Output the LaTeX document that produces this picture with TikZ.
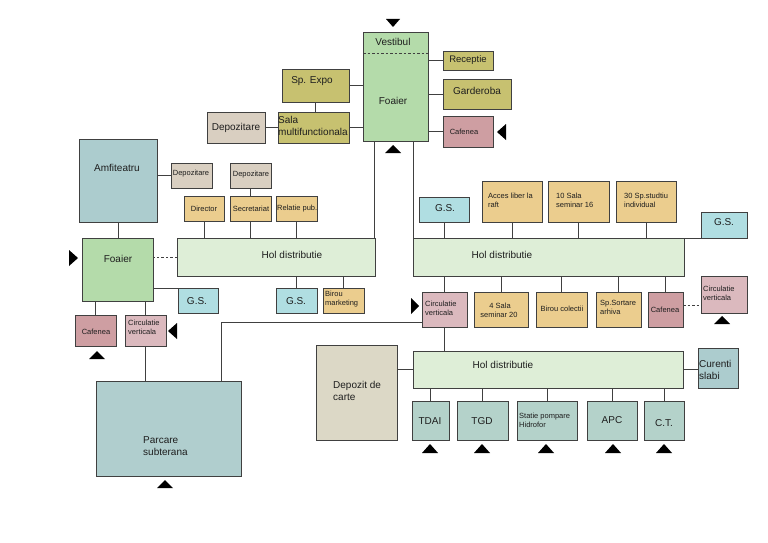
\documentclass[tikz,border=0pt]{standalone}
\usepackage{fontspec}
\setmainfont{Liberation Sans}
\definecolor{cOlive}{RGB}{199,193,112}
\definecolor{cGreen}{RGB}{180,219,170}
\definecolor{cCaf}{RGB}{206,158,162}
\definecolor{cCirc}{RGB}{219,185,190}
\definecolor{cHol}{RGB}{222,238,215}
\definecolor{cGS}{RGB}{176,222,226}
\definecolor{cTeal}{RGB}{172,204,206}
\definecolor{cTealB}{RGB}{176,206,206}
\definecolor{cTan}{RGB}{235,205,142}
\definecolor{cBeige}{RGB}{217,207,193}
\definecolor{cBeigeB}{RGB}{220,216,198}
\definecolor{cSvc}{RGB}{180,210,202}
\definecolor{cLine}{RGB}{64,64,64}
\definecolor{cText}{RGB}{30,30,30}
\tikzset{
  box/.style={draw=cLine, line width=0.8pt, inner sep=0pt, outer sep=0pt, anchor=north west},
  conn/.style={draw=cLine, line width=0.8pt},
  dconn/.style={draw=cLine, line width=0.8pt, dash pattern=on 2.5pt off 2pt},
  big/.style={font=\fontsize{10}{12}\selectfont, text=cText, inner sep=0pt, align=left},
  sml/.style={font=\fontsize{7.5}{9}\selectfont, text=cText, inner sep=0pt, align=left},
  tri/.style={fill=black}
}
\newcommand\bx[6]{\node[box, fill=#6, minimum width={(#4-#2)*1pt}, minimum height={(#5-#3)*1pt}] (#1) at (#2,#3) {};}
% triangle pointing up: centre x, top y, bottom y
\newcommand\tup[3]{\fill[tri] (#1-8,#3) -- (#1+8,#3) -- (#1,#2) -- cycle;}
\newcommand\tdn[3]{\fill[tri] (#1-7,#2) -- (#1+7,#2) -- (#1,#3) -- cycle;}
% pointing left: tip x, base x, centre y
\newcommand\tlf[3]{\fill[tri] (#1,#3) -- (#2,#3-8) -- (#2,#3+8) -- cycle;}
\newcommand\trt[3]{\fill[tri] (#1,#3) -- (#2,#3-8) -- (#2,#3+8) -- cycle;}
\begin{document}
\begin{tikzpicture}[x=1pt,y=-1pt]
\useasboundingbox (0,0) rectangle (768,543);
\fill[white] (0,0) rectangle (768,543);

% ---------- boxes ----------
\bx{foaierT}{363}{32}{428}{141}{cGreen}
\bx{receptie}{443}{51}{493}{70}{cOlive}
\bx{garderoba}{443}{79}{511}{109}{cOlive}
\bx{cafT}{443}{116}{493}{147}{cCaf}
\bx{spexpo}{282}{69}{349}{102}{cOlive}
\bx{sala}{278}{112}{349}{143}{cOlive}
\bx{depT}{207}{112}{265}{143}{cBeige}
\bx{amfi}{79}{139}{157}{222}{cTeal}
\bx{depA}{171}{163}{212}{188}{cBeige}
\bx{depS}{230}{163}{271}{188}{cBeige}
\bx{director}{184}{196}{224}{221}{cTan}
\bx{secret}{230}{196}{271}{221}{cTan}
\bx{relatie}{276}{196}{317}{221}{cTan}
\bx{foaierL}{82}{238}{153}{301}{cGreen}
\bx{holL}{177}{238}{375}{276}{cHol}
\bx{gsLa}{178}{288}{218}{313}{cGS}
\bx{gsLb}{276}{288}{317}{313}{cGS}
\bx{birouM}{323}{288}{364}{313}{cTan}
\bx{cafL}{75}{315}{116}{346}{cCaf}
\bx{circL}{125}{315}{166}{346}{cCirc}
\bx{parcare}{96}{381}{241}{476}{cTealB}
\bx{gsRa}{419}{197}{469}{222}{cGS}
\bx{acces}{482}{181}{542}{222}{cTan}
\bx{salaA}{548}{181}{609}{222}{cTan}
\bx{studiu}{616}{181}{676}{222}{cTan}
\bx{gsRb}{701}{212}{747}{238}{cGS}
\bx{holR}{413}{238}{684}{276}{cHol}
\bx{circR}{422}{292}{467}{327}{cCirc}
\bx{salaB}{474}{292}{528}{327}{cTan}
\bx{birouC}{536}{292}{587}{327}{cTan}
\bx{sortare}{596}{292}{641}{327}{cTan}
\bx{cafR}{648}{292}{683}{327}{cCaf}
\bx{circRb}{701}{276}{747}{313}{cCirc}
\bx{depozit}{316}{345}{397}{440}{cBeigeB}
\bx{holB}{413}{351}{683}{388}{cHol}
\bx{curenti}{698}{348}{738}{388}{cTeal}
\bx{tdai}{412}{401}{449}{440}{cSvc}
\bx{tgd}{457}{401}{508}{440}{cSvc}
\bx{statie}{517}{401}{577}{440}{cSvc}
\bx{apc}{587}{401}{637}{440}{cSvc}
\bx{ct}{644}{401}{684}{440}{cSvc}

% ---------- connectors ----------
\draw[dconn] ([yshift=-21pt]foaierT.north west) -- ([yshift=-21pt]foaierT.north east);
\draw[conn] (spexpo.east) -- (spexpo.east -| foaierT.west);
\draw[conn] (sala.east) -- (sala.east -| foaierT.west);
\draw[conn] (depT.east) -- (depT.east -| sala.west);
\draw[conn] (spexpo.south) -- (spexpo.south |- sala.north);
\draw[conn] (receptie.west) -- (receptie.west -| foaierT.east);
\draw[conn] (garderoba.west) -- (garderoba.west -| foaierT.east);
\draw[conn] (cafT.west) -- (cafT.west -| foaierT.east);
\draw[conn] ([xshift=-1pt]holL.north east) -- ([xshift=-1pt]holL.north east |- foaierT.south);
\draw[conn] (holR.north west) -- (holR.north west |- foaierT.south);
\draw[conn] (amfi.south) -- (amfi.south |- foaierL.north);
\draw[conn] (depA.west) -- (depA.west -| amfi.east);
\draw[conn] (depS.south) -- (secret.north);
\draw[conn] (director.south) -- (director.south |- holL.north);
\draw[conn] (secret.south) -- (secret.south |- holL.north);
\draw[conn] (relatie.south) -- (relatie.south |- holL.north);
\draw[dconn] (holL.west) -- (holL.west -| foaierL.east);
\draw[conn] (gsLa.north west) -- (gsLa.north west -| foaierL.east);
\draw[conn] (gsLb.north) -- (gsLb.north |- holL.south);
\draw[conn] (birouM.north) -- (birouM.north |- holL.south);
\draw[conn] (cafL.north) -- (cafL.north |- foaierL.south);
\draw[conn] (circL.north) -- (circL.north |- foaierL.south);
\draw[conn] (circL.south) -- (circL.south |- parcare.north);
\coordinate (bend) at (221,322);
\draw[conn] (bend |- parcare.north) -- (bend) -- (bend -| circR.west);
\draw[conn] (gsRa.south) -- (gsRa.south |- holR.north);
\draw[conn] (acces.south) -- (acces.south |- holR.north);
\draw[conn] (salaA.south) -- (salaA.south |- holR.north);
\draw[conn] (studiu.south) -- (studiu.south |- holR.north);
\draw[conn] (holR.north east) -- (gsRb.south east);
\draw[conn] (circR.north) -- (circR.north |- holR.south);
\draw[conn] (salaB.north) -- (salaB.north |- holR.south);
\draw[conn] (birouC.north) -- (birouC.north |- holR.south);
\draw[conn] (sortare.north) -- (sortare.north |- holR.south);
\draw[conn] (cafR.north) -- (cafR.north |- holR.south);
\draw[dconn] ([yshift=4pt]cafR.east) -- ([yshift=4pt]cafR.east -| circRb.west);
\draw[conn] (circR.south) -- (circR.south |- holB.north);
\draw[conn] (holB.west) -- (holB.west -| depozit.east);
\draw[conn] (holB.east) -- (holB.east -| curenti.west);
\draw[conn] (tdai.north) -- (tdai.north |- holB.south);
\draw[conn] (tgd.north) -- (tgd.north |- holB.south);
\draw[conn] (statie.north) -- (statie.north |- holB.south);
\draw[conn] (apc.north) -- (apc.north |- holB.south);
\draw[conn] (ct.north) -- (ct.north |- holB.south);

% ---------- texts ----------
\node[big] at (393,42) {Vestibul};
\node[big] at (393,101) {Foaier};
\node[big, font=\fontsize{9.5}{11}\selectfont] at (468,60) {Receptie};
\node[big] at (477,91) {Garderoba};
\node[sml] at (464,132) {Cafenea};
\node[big] at (312,81) {Sp. Expo};
\node[big, anchor=west] at (278,126) {Sala\\multifunctionala};
\node[big] at (236,128) {Depozitare};
\node[big] at (117,168) {Amfiteatru};
\node[sml] at (191,174) {Depozitare};
\node[sml] at (251,175) {Depozitare};
\node[sml] at (204,209) {Director};
\node[sml] at (251,209) {Secretariat};
\node[sml, anchor=west] at (277,209) {Relatie pub.};
\node[big] at (118,259) {Foaier};
\node[big] at (292,255) {Hol distributie};
\node[big] at (197,301) {G.S.};
\node[big] at (296,301) {G.S.};
\node[sml, anchor=west] at (325,299) {Birou\\marketing};
\node[sml] at (96,332) {Cafenea};
\node[sml, anchor=west] at (128,327) {Circulatie\\verticala};
\node[big, anchor=west] at (143,446) {Parcare\\subterana};
\node[big] at (445,208) {G.S.};
\node[sml, anchor=west] at (488,200) {Acces liber la\\raft};
\node[sml, anchor=west] at (556,200) {10 Sala\\seminar 16};
\node[sml, anchor=west] at (624,200) {30 Sp.studtiu\\individual};
\node[big] at (724,222) {G.S.};
\node[big] at (502,255) {Hol distributie};
\node[sml, anchor=west] at (425,308) {Circulatie\\verticala};
\node[sml, align=center] at (499,310) {\ 4 Sala\\seminar 20};
\node[sml] at (562,309) {Birou colectii};
\node[sml, anchor=west] at (600,307) {Sp.Sortare\\arhiva};
\node[sml] at (665,310) {Cafenea};
\node[sml, anchor=west] at (703,293) {Circulatie\\verticala};
\node[big] at (503,365) {Hol distributie};
\node[big, anchor=west] at (333,391) {Depozit de\\carte};
\node[big, anchor=west] at (699,370) {Curenti\\slabi};
\node[big] at (430,421) {TDAI};
\node[big] at (482,421) {TGD};
\node[sml, anchor=west] at (519,420) {Statie pompare\\Hidrofor};
\node[big] at (612,420) {APC};
\node[big] at (664,423) {C.T.};

% ---------- triangles ----------
\tdn{393}{19}{27}
\tup{393}{145}{153}
\tlf{497}{506}{132}
\trt{78}{69}{258}
\tlf{168}{177}{331}
\tup{97}{351}{359}
\tup{165}{480}{488}
\trt{419}{411}{306}
\tup{722}{316}{324}
\tup{430}{444}{453}
\tup{482}{444}{453}
\tup{546}{444}{453}
\tup{613}{444}{453}
\tup{664}{444}{453}
\end{tikzpicture}
\end{document}
